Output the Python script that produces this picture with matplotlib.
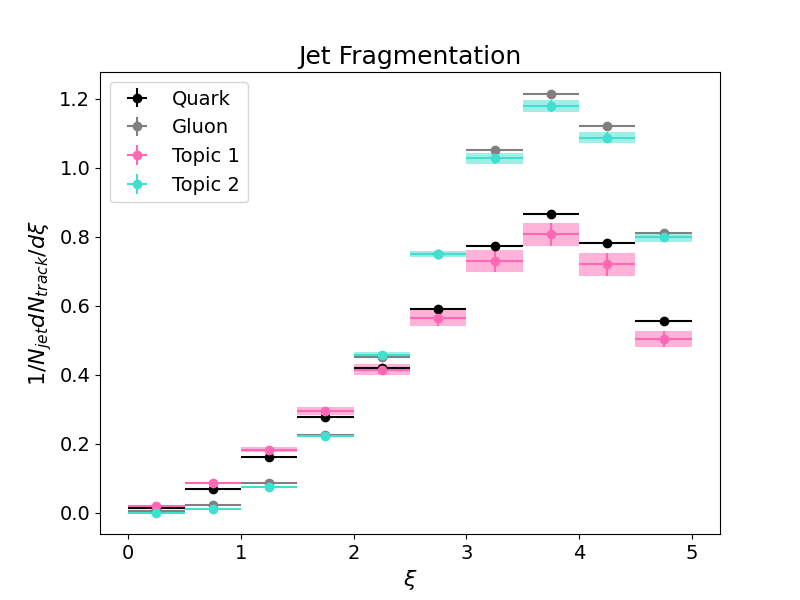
import numpy as np
import matplotlib
matplotlib.use('Agg')
import matplotlib.pyplot as plt

# bin centres in xi
xi = [0.25, 0.75, 1.25, 1.75, 2.25, 2.75, 3.25, 3.75, 4.25, 4.75]
half_width = 0.25

quark = [0.014, 0.070, 0.162, 0.278, 0.420, 0.590, 0.773, 0.865, 0.781, 0.556]
quark_err = [0.001, 0.002, 0.002, 0.002, 0.003, 0.003, 0.003, 0.003, 0.003, 0.003]
gluon = [0.006, 0.024, 0.088, 0.226, 0.452, 0.750, 1.050, 1.213, 1.120, 0.811]
gluon_err = [0.001, 0.001, 0.002, 0.002, 0.003, 0.003, 0.003, 0.003, 0.003, 0.003]
topic1 = [0.020, 0.087, 0.183, 0.296, 0.415, 0.564, 0.729, 0.807, 0.720, 0.504]
topic1_err = [0.002, 0.004, 0.007, 0.011, 0.016, 0.024, 0.032, 0.034, 0.033, 0.023]
topic2 = [0.001, 0.012, 0.076, 0.223, 0.457, 0.750, 1.027, 1.178, 1.087, 0.798]
topic2_err = [0.001, 0.002, 0.003, 0.004, 0.008, 0.010, 0.016, 0.017, 0.016, 0.012]

plt.rcParams['font.size'] = 14

fig, ax = plt.subplots(figsize=(8, 6), dpi=100)

ax.errorbar(xi, quark, xerr=half_width, yerr=quark_err, fmt='o', color='black', label='Quark')
ax.errorbar(xi, gluon, xerr=half_width, yerr=gluon_err, fmt='o', color='gray', label='Gluon')
ax.errorbar(xi, topic1, xerr=half_width, yerr=topic1_err, fmt='o', color='hotpink', label='Topic 1')
ax.errorbar(xi, topic2, xerr=half_width, yerr=topic2_err, fmt='o', color='turquoise', label='Topic 2')

# shaded uncertainty bands for the topics
for vals, errs, c in [(topic1, topic1_err, 'hotpink'), (topic2, topic2_err, 'turquoise')]:
    for x, v, e in zip(xi, vals, errs):
        ax.fill_between([x - half_width, x + half_width], v - e, v + e,
                        color=c, alpha=0.5, linewidth=0)

ax.set_xlabel(r'$\xi$', fontsize=16)
ax.set_ylabel(r'$1/N_{jet} dN_{track}/d\xi$', fontsize=16)
ax.set_title('Jet Fragmentation', fontsize=18)
ax.legend(loc='upper left')

plt.savefig('out.png', dpi=100)
